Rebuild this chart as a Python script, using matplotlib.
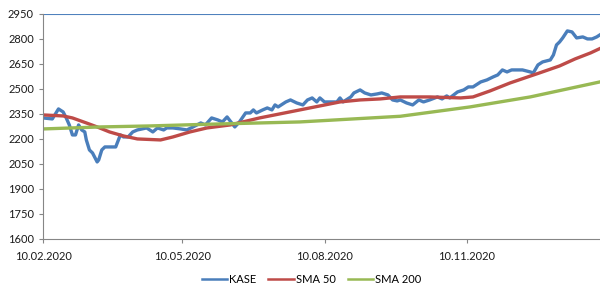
import matplotlib
matplotlib.use("Agg")
import matplotlib.pyplot as plt
import pandas as pd

kase_dates = ["2020-02-10","2020-02-16","2020-02-20","2020-02-23","2020-02-25","2020-02-27","2020-02-29",
    "2020-03-02","2020-03-04","2020-03-06","2020-03-08","2020-03-09","2020-03-11","2020-03-13","2020-03-16",
    "2020-03-17","2020-03-19","2020-03-21","2020-03-26","2020-03-28","2020-03-29","2020-03-31","2020-04-02",
    "2020-04-05","2020-04-08","2020-04-11","2020-04-17","2020-04-21","2020-04-24","2020-04-28","2020-04-30",
    "2020-05-04","2020-05-09","2020-05-13","2020-05-17","2020-05-22","2020-05-25","2020-05-29","2020-06-02",
    "2020-06-05","2020-06-08","2020-06-11","2020-06-13","2020-06-16","2020-06-20","2020-06-23","2020-06-25",
    "2020-06-27","2020-07-01","2020-07-04","2020-07-07","2020-07-09","2020-07-11","2020-07-16","2020-07-19",
    "2020-07-23","2020-07-27","2020-07-30","2020-08-02","2020-08-05","2020-08-07","2020-08-10","2020-08-14",
    "2020-08-18","2020-08-20","2020-08-22","2020-08-27","2020-08-29","2020-09-02","2020-09-05","2020-09-09",
    "2020-09-13","2020-09-16","2020-09-20","2020-09-23","2020-09-26","2020-09-28","2020-10-02","2020-10-06",
    "2020-10-10","2020-10-13","2020-10-17","2020-10-22","2020-10-25","2020-10-28","2020-10-30","2020-11-04",
    "2020-11-08","2020-11-11","2020-11-14","2020-11-19","2020-11-23","2020-11-27","2020-11-30","2020-12-03",
    "2020-12-06","2020-12-09","2020-12-16","2020-12-21","2020-12-23","2020-12-26","2020-12-29","2021-01-03",
    "2021-01-05","2021-01-07","2021-01-09","2021-01-11","2021-01-14","2021-01-17","2021-01-20","2021-01-24",
    "2021-01-27","2021-01-30","2021-02-02","2021-02-04"]
kase_values = [2326,2320,2380,2362,2326,2284,2224,
    2224,2284,2254,2242,2194,2134,2116,2062,
    2074,2134,2152,2152,2152,2176,2224,2212,
    2212,2242,2254,2266,2242,2266,2254,2266,
    2266,2260,2254,2272,2296,2284,2326,2314,
    2302,2332,2296,2272,2302,2356,2356,2374,
    2356,2374,2386,2374,2404,2392,2422,2434,
    2416,2404,2434,2446,2422,2446,2422,2422,
    2422,2446,2422,2452,2476,2494,2476,2464,
    2470,2476,2464,2434,2428,2434,2416,2404,
    2434,2422,2434,2452,2440,2458,2446,2482,
    2494,2512,2512,2542,2554,2572,2584,2614,
    2602,2614,2614,2602,2596,2644,2662,2674,
    2704,2764,2782,2806,2848,2842,2806,2812,
    2800,2800,2812,2824]

sma50_dates = ["2020-02-10","2020-02-23","2020-02-29","2020-03-09","2020-03-16","2020-03-24","2020-04-02",
    "2020-04-11","2020-04-26","2020-05-04","2020-05-15","2020-05-26","2020-06-10","2020-06-29","2020-07-25",
    "2020-08-07","2020-08-20","2020-09-02","2020-09-15","2020-09-28","2020-10-17","2020-11-06","2020-11-14",
    "2020-11-25","2020-12-08","2020-12-27","2021-01-09","2021-01-19","2021-01-29","2021-02-04"]
sma50_values = [2344,2338,2326,2296,2272,2242,2218,
    2200,2194,2212,2242,2266,2284,2326,2374,
    2398,2422,2434,2440,2452,2452,2446,2452,
    2488,2536,2596,2638,2680,2716,2742]

sma200_dates = ["2020-02-10","2020-03-18","2020-04-19","2020-05-26","2020-07-25","2020-09-28",
    "2020-11-12","2020-12-21","2021-02-04"]
sma200_values = [2260,2272,2278,2288,2302,2336,2392,2452,2542]

y_ticks = [1600,1750,1900,2050,2200,2350,2500,2650,2800,2950]
x_tick_dates = ["2020-02-10","2020-05-10","2020-08-10","2020-11-10"]
x_tick_labels = ["10.02.2020","10.05.2020","10.08.2020","10.11.2020"]

plt.rcParams['font.family'] = ['Lato', 'DejaVu Sans']
fig = plt.figure(figsize=(6, 2.9), dpi=100)
ax = fig.add_axes([0.0717, 0.176, 0.928, 0.776])

ax.plot(pd.to_datetime(kase_dates), kase_values, color="#4A7EBB", lw=2.4, label="KASE", solid_joinstyle="round")
ax.plot(pd.to_datetime(sma50_dates), sma50_values, color="#BE4B48", lw=2.4, label="SMA 50")
ax.plot(pd.to_datetime(sma200_dates), sma200_values, color="#98B954", lw=2.4, label="SMA 200")
ax.axhline(2950, color="#4F81BD", lw=0.8, zorder=0)

ax.set_ylim(1600, 2950)
ax.set_xlim(pd.Timestamp("2020-02-10"), pd.Timestamp("2021-02-04"))
ax.set_yticks(y_ticks)
ax.set_xticks(pd.to_datetime(x_tick_dates))
ax.set_xticklabels(x_tick_labels)
ax.tick_params(axis='both', labelsize=8, labelcolor="#1a1a1a", length=3, width=0.8, color="#868686")
ax.tick_params(axis='x', pad=6)
for s in ["top", "right"]:
    ax.spines[s].set_visible(False)
for s in ["left", "bottom"]:
    ax.spines[s].set_color("#868686")
    ax.spines[s].set_linewidth(0.8)

leg = fig.legend(*ax.get_legend_handles_labels(), loc="center", bbox_to_anchor=(0.519, 0.035), ncol=3,
                 frameon=False, fontsize=8, handlelength=2.3, columnspacing=1.1, handletextpad=0.15)
for ln in leg.get_lines():
    ln.set_linewidth(1.8)

fig.savefig("out.png", dpi=100)
